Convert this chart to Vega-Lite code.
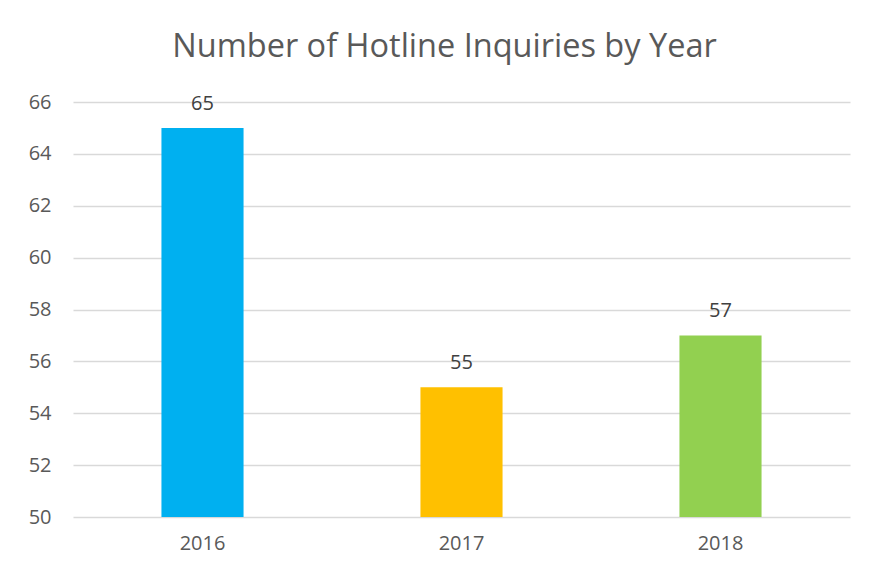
{
  "$schema": "https://vega.github.io/schema/vega-lite/v6.json",
  "autosize": "none",
  "width": 777,
  "height": 415,
  "padding": {"left": 73, "top": 102, "right": 20, "bottom": 59},
  "background": "white",
  "title": {
    "text": "Number of Hotline Inquiries by Year",
    "font": "Open Sans",
    "fontSize": 32.5,
    "fontWeight": "normal",
    "color": "#595959",
    "anchor": "middle",
    "baseline": "alphabetic",
    "offset": 3,
    "dx": -17
  },
  "config": {
    "view": {"stroke": null},
    "axis": {"labelFont": "Open Sans", "labelFontSize": 20, "labelColor": "#595959"}
  },
  "data": {
    "values": [
      {"year": "2016", "inquiries": 65},
      {"year": "2017", "inquiries": 55},
      {"year": "2018", "inquiries": 57}
    ]
  },
  "encoding": {
    "x": {
      "field": "year",
      "type": "nominal",
      "scale": {"paddingInner": 0.683, "paddingOuter": 0.3415},
      "axis": {"title": null, "labelAngle": 0, "ticks": false, "domain": false, "labelPadding": 16}
    },
    "y": {
      "field": "inquiries",
      "type": "quantitative",
      "scale": {"domain": [50, 66], "nice": false, "zero": false},
      "axis": {
        "title": null,
        "values": [50, 52, 54, 56, 58, 60, 62, 64, 66],
        "ticks": false,
        "domain": false,
        "grid": true,
        "gridColor": "#D9D9D9",
        "gridWidth": 1.5,
        "labelPadding": 22
      }
    }
  },
  "layer": [
    {
      "mark": {"type": "bar"},
      "encoding": {
        "y2": {"datum": 50},
        "color": {
          "field": "year",
          "type": "nominal",
          "scale": {"domain": ["2016", "2017", "2018"], "range": ["#00B0F0", "#FFC000", "#92D050"]},
          "legend": null
        }
      }
    },
    {
      "mark": {"type": "text", "font": "Open Sans", "fontSize": 20, "color": "#404040", "baseline": "alphabetic", "dy": -18},
      "encoding": {"text": {"field": "inquiries", "type": "quantitative"}}
    }
  ]
}
